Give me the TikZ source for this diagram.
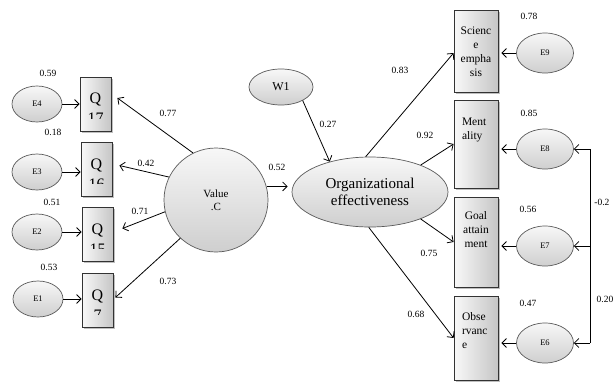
\documentclass[tikz,border=0pt]{standalone}
\usepackage{fontspec}
\setmainfont{Liberation Serif}
\usetikzlibrary{arrows.meta,shapes.geometric,shadows}

\begin{document}
\begin{tikzpicture}[x=1pt, y=-1pt, line width=0.8pt,
  arr/.style={-{Straight Barb[length=4.5pt,width=9pt]}},
  latent/.style={draw=black!65, line width=0.7pt, top color=gray!6, bottom color=gray!38, inner sep=0pt},
  err/.style={ellipse, latent, font=\fontsize{8.5}{9}\selectfont},
  eleft/.style={err, minimum width=50pt, minimum height=36pt},
  eright/.style={err, minimum width=57pt, minimum height=40pt},
  coef/.style={font=\fontsize{9.5}{10}\selectfont, inner sep=0pt},
  qbox/.style={draw=black!80, minimum width=31pt, minimum height=54pt, left color=gray!5, right color=gray!45,
    drop shadow={shadow xshift=1.5pt, shadow yshift=-1.5pt, opacity=0.5}},
  qtext/.style={anchor=north, align=center, inner sep=0pt, font=\fontsize{16}{20}\selectfont},
  rbox/.style={draw=black!80, minimum width=44pt, left color=gray!5, right color=gray!45,
    drop shadow={shadow xshift=1.5pt, shadow yshift=-1.5pt, opacity=0.5}},
  rtext/.style={anchor=north, align=center, inner sep=0pt, font=\fontsize{11.5}{14}\selectfont}
]
  \useasboundingbox (0,0) rectangle (614,381);

  % Items of Value .C
  \node[qbox] (q17) at (95.5,104) {};
  \node[qbox] (q16) at (96.5,169.5) {};
  \node[qbox] (q15) at (97.5,234.5) {};
  \node[qbox] (q7)  at (97.5,300.5) {};
  \foreach \n in {17,16,15,7} {
    \begin{scope}
      \clip ([yshift=13pt]q\n.south west) rectangle (q\n.north east);
      \node[qtext] at ([yshift=-16pt]q\n.north) {Q\\\n};
    \end{scope}
  }

  \node[eleft] (e4) at (37,104) {E4};
  \node[eleft] (e3) at (37,172) {E3};
  \node[eleft] (e2) at (37,232) {E2};
  \node[eleft] (e1) at (38,299) {E1};

  \draw[arr] (e4.east) -- (e4.east -| q17.west);
  \draw[arr] (e3.east) -- (e3.east -| q16.west);
  \draw[arr] (e2.east) -- (e2.east -| q15.west);
  \draw[arr] (e1.east) -- (e1.east -| q7.west);

  \node[coef] at (48,73) {0.59};
  \node[coef] at (53,132) {0.18};
  \node[coef] at (52,202) {0.51};
  \node[coef] at (49,267) {0.53};

  % Latent variables
  \node[circle, latent, minimum size=104pt, align=center,
    font=\fontsize{11}{13}\selectfont] (vc) at (216,200) {Value\\.C};
  \node[ellipse, latent, minimum width=156pt, minimum height=70pt,
    align=center, font=\fontsize{15}{17}\selectfont] (oe) at (370,192) {Organizational\\effectiveness};
  \node[ellipse, latent, minimum width=64pt, minimum height=36pt,
    font=\fontsize{12}{13}\selectfont] (w1) at (281,87) {W1};

  \draw[arr] (vc.116) -- ([xshift=6pt,yshift=6pt]q17.east);
  \draw[arr] (vc.154) -- ([xshift=7pt,yshift=4pt]q16.east);
  \draw[arr] (vc.193) -- ([xshift=9pt,yshift=6pt]q15.east);
  \draw[arr] (vc.227) -- ([xshift=2pt,yshift=3pt]q7.east);

  \node[coef] at (168,113) {0.77};
  \node[coef] at (146,163) {0.42};
  \node[coef] at (140,211) {0.71};
  \node[coef] at (168,281) {0.73};

  \draw[arr, shorten >=4pt] (vc.15) -- (vc.15 -| oe.west);
  \draw[arr] (w1.-32) -- (oe.143);
  \node[coef] at (277,167) {0.52};
  \node[coef] at (328,124) {0.27};

  % Dimensions of effectiveness
  \node[rbox, minimum height=82pt] (sci) at (476,51) {};
  \node[rbox, minimum height=88pt] (ment) at (476,144) {};
  \node[rbox, minimum height=90pt] (goal) at (476,242) {};
  \node[rbox, minimum height=84pt] (obs) at (476,338) {};
  \node[rtext] at ([yshift=-17pt]sci.north) {Scienc\\e\\empha\\sis};
  \node[rtext, anchor=north west, align=left] at ([xshift=8pt,yshift=-18pt]ment.north west) {Ment\\ality};
  \node[rtext] at ([yshift=-15pt]goal.north) {Goal\\attain\\ment};
  \node[rtext, anchor=north west, align=left] at ([xshift=8pt,yshift=-17pt]obs.north west) {Obse\\rvanc\\e};

  \draw[arr] (oe.97) -- ([yshift=-2pt]sci.west);
  \draw[arr] (oe.28) -- (ment.west);
  \draw[arr] (oe.-28) -- (goal.west);
  \draw[arr] (oe.-92) -- (obs.west);

  \node[coef] at (400,70) {0.83};
  \node[coef] at (425,135) {0.92};
  \node[coef] at (429,253) {0.75};
  \node[coef] at (416,314) {0.68};

  \node[eright] (e9) at (545,53) {E9};
  \node[eright] (e8) at (545,149) {E8};
  \node[eright] (e7) at (545,246) {E7};
  \node[eright] (e6) at (545,343) {E6};

  \draw[arr, shorten >=3pt] (e9.west) -- (e9.west -| sci.east);
  \draw[arr, shorten >=3pt] (e8.west) -- (e8.west -| ment.east);
  \draw[arr, shorten >=3pt] (e7.west) -- (e7.west -| goal.east);
  \draw[arr, shorten >=3pt] (e6.west) -- (e6.west -| obs.east);

  \node[coef] at (529,16) {0.78};
  \node[coef] at (529,113) {0.85};
  \node[coef] at (528,209) {0.56};
  \node[coef] at (528,303) {0.47};

  % Correlated errors
  \coordinate (cvtop) at (590,149);
  \coordinate (cvmid) at (590,246);
  \coordinate (cvbot) at (590,343);
  \draw (cvtop) -- (cvbot);
  \draw[arr] (cvtop) -- (e8.east);
  \draw[arr] (cvmid) -- (e7.east);
  \draw[arr] (cvbot) -- (e6.east);
  \node[coef, anchor=west] at (594,202) {-0.2};
  \node[coef] at (605,299) {0.20};
\end{tikzpicture}
\end{document}
